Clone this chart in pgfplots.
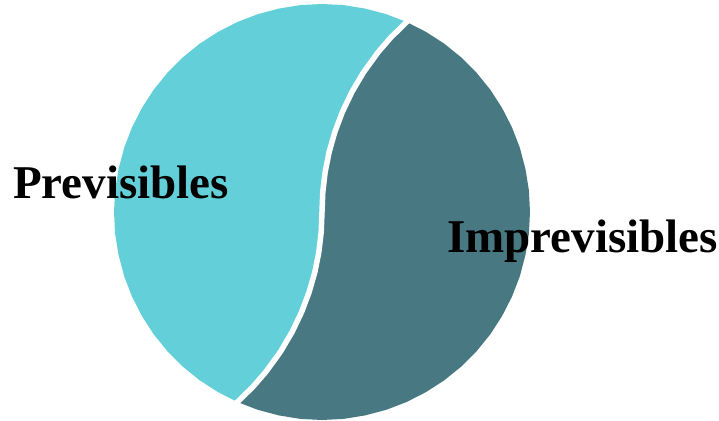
\documentclass[border=0pt]{standalone}
\usepackage{fontspec}
\setmainfont{Liberation Serif}
\usepackage{pgfplots}
\pgfplotsset{compat=1.18}
\definecolor{lightpart}{RGB}{99,208,217}
\definecolor{darkpart}{RGB}{72,121,131}
\begin{document}
\begin{tikzpicture}
\begin{axis}[
  x=1pt, y=1pt,
  xmin=-322, xmax=397, ymin=-208, ymax=212,
  hide axis, clip=false, scale only axis,
]
% invisible corners so the page spans the whole plotting area
\addplot[draw=none] coordinates {(-322,-208) (397,212)};
% left half: outer arc from 66 to 246 degrees, back along the S-curve
\addplot[fill=lightpart, draw=none] coordinates {
 (84.6,190.0) (64.3,197.8) (43.2,203.4) (21.7,206.9) (0,208)
 (-21.7,206.9) (-43.2,203.4) (-64.3,197.8) (-84.6,190.0) (-104.0,180.1)
 (-122.3,168.3) (-139.2,154.6) (-154.6,139.2) (-168.3,122.3) (-180.1,104.0)
 (-190.0,84.6) (-197.8,64.3) (-203.4,43.2) (-206.9,21.7) (-208,0)
 (-206.9,-21.7) (-203.4,-43.2) (-197.8,-64.3) (-190.0,-84.6) (-180.1,-104.0)
 (-168.3,-122.3) (-154.6,-139.2) (-139.2,-154.6) (-122.3,-168.3) (-104.0,-180.1)
 (-84.6,-190.0)
 (-69.27,-175) (-56.25,-160) (-41.73,-140) (-29.91,-120) (-20.37,-100)
 (-12.84,-80) (-7.14,-60) (-3.15,-40) (-0.8,-20) (0,0)
 (0.8,20) (3.15,40) (7.14,60) (12.84,80) (20.37,100)
 (29.91,120) (41.73,140) (56.25,160) (69.27,175) (84.6,190.0)
} -- cycle;
% right half: down the S-curve, then outer arc from 246 to 426 degrees
\addplot[fill=darkpart, draw=none] coordinates {
 (84.6,190.0) (69.27,175) (56.25,160) (41.73,140) (29.91,120) (20.37,100)
 (12.84,80) (7.14,60) (3.15,40) (0.8,20) (0,0)
 (-0.8,-20) (-3.15,-40) (-7.14,-60) (-12.84,-80) (-20.37,-100)
 (-29.91,-120) (-41.73,-140) (-56.25,-160) (-69.27,-175) (-84.6,-190.0)
 (-64.3,-197.8) (-43.2,-203.4) (-21.7,-206.9) (0,-208)
 (21.7,-206.9) (43.2,-203.4) (64.3,-197.8) (84.6,-190.0) (104.0,-180.1)
 (122.3,-168.3) (139.2,-154.6) (154.6,-139.2) (168.3,-122.3) (180.1,-104.0)
 (190.0,-84.6) (197.8,-64.3) (203.4,-43.2) (206.9,-21.7) (208,0)
 (206.9,21.7) (203.4,43.2) (197.8,64.3) (190.0,84.6) (180.1,104.0)
 (168.3,122.3) (154.6,139.2) (139.2,154.6) (122.3,168.3) (104.0,180.1)
 (84.6,190.0)
} -- cycle;
% white gap between the two halves
\addplot[white, line width=5.5pt] coordinates {
 (96.4,200) (84.6,190.0) (69.27,175) (56.25,160) (41.73,140) (29.91,120) (20.37,100)
 (12.84,80) (7.14,60) (3.15,40) (0.8,20) (0,0)
 (-0.8,-20) (-3.15,-40) (-7.14,-60) (-12.84,-80) (-20.37,-100)
 (-29.91,-120) (-41.73,-140) (-56.25,-160) (-69.27,-175) (-84.6,-190.0) (-96.4,-200)
};
\node[anchor=base west, inner sep=0pt, font=\fontsize{47}{54}\selectfont\bfseries]
  at (axis cs:-309,13) {Previsibles};
\node[anchor=base west, inner sep=0pt, font=\fontsize{47}{54}\selectfont\bfseries]
  at (axis cs:125,-41) {Imprevisibles};
\end{axis}
\end{tikzpicture}
\end{document}
